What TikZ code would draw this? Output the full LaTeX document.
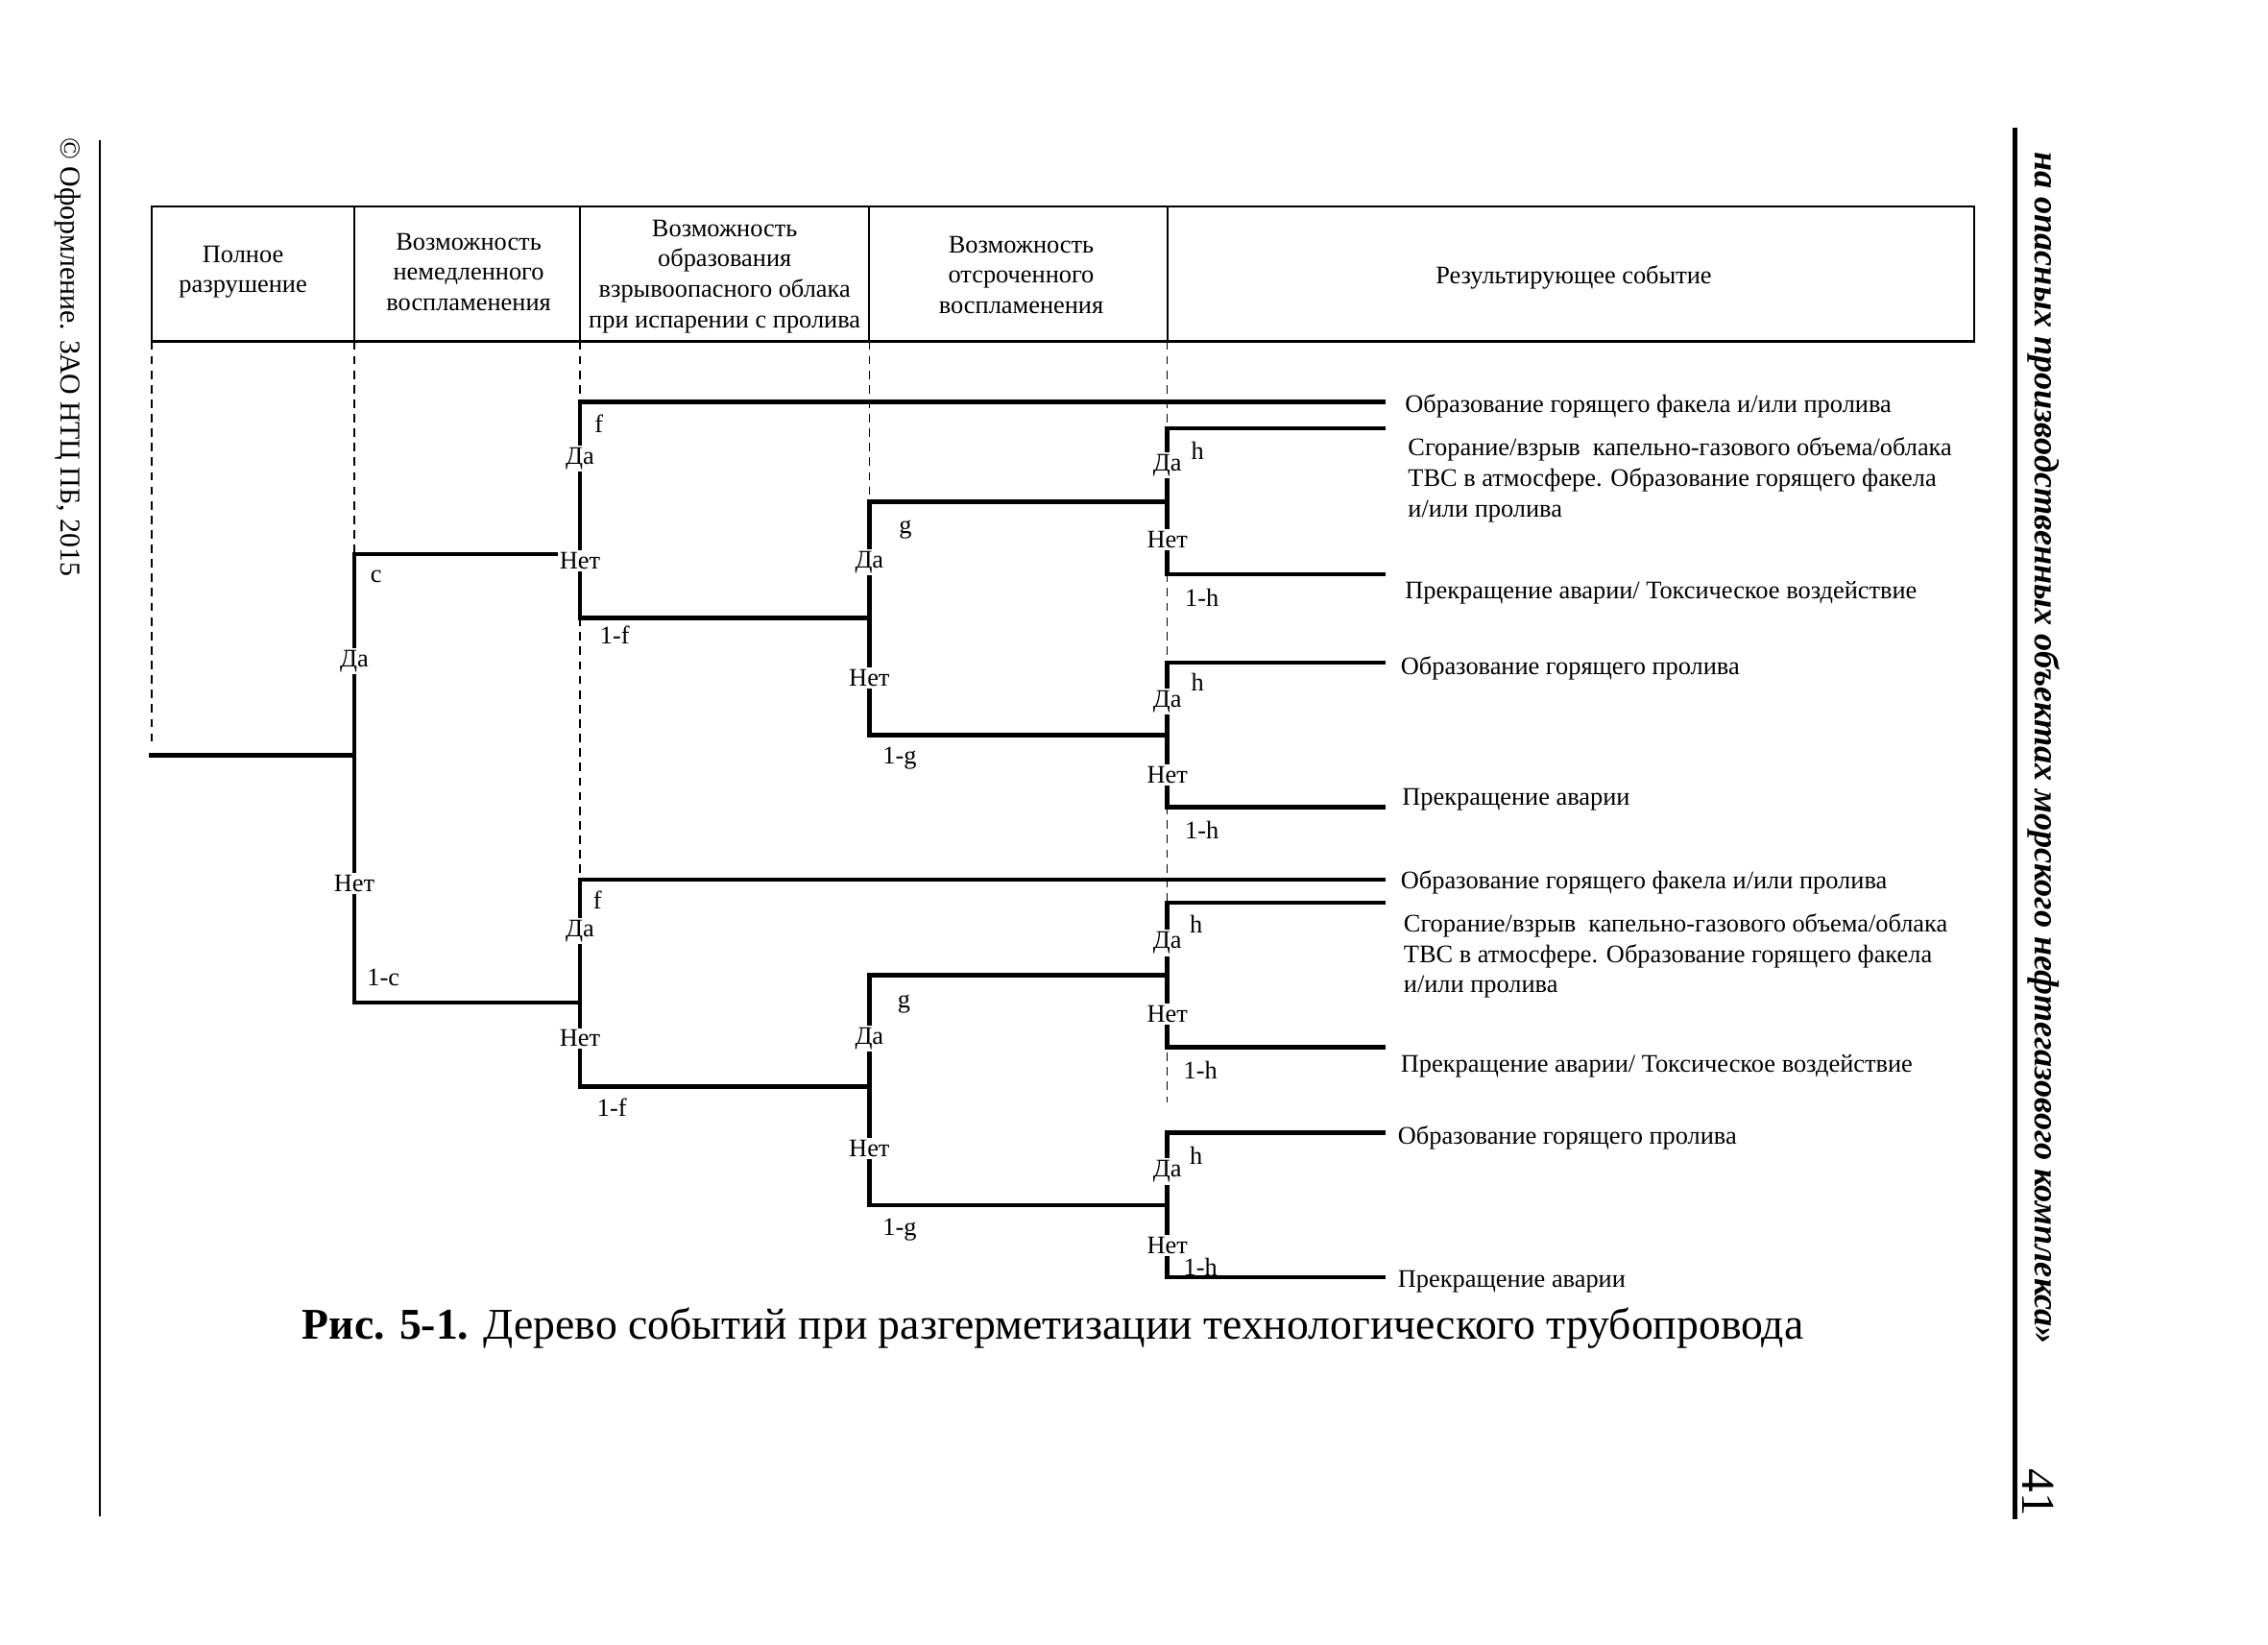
\documentclass[tikz,border=0pt]{standalone}
\usepackage{fontspec}
\setmainfont{Liberation Serif}

\begin{document}
\begin{tikzpicture}[x=0.015064cm, y=-0.015064cm,
		evline/.style={line width=1.3pt},
		gline/.style={line width=0.4pt, dash pattern=on 2.5pt off 1.8pt},
		cell/.style={line width=0.6pt},
		yn/.style={fill=white, inner sep=0.6pt, yshift=-0.8pt, font=\fontsize{7.5}{9}\selectfont},
		prob/.style={inner sep=0pt, yshift=-0.8pt, font=\fontsize{7.5}{9}\selectfont},
		res/.style={anchor=west, inner sep=0pt, yshift=-0.8pt, align=left, font=\fontsize{7.5}{9}\selectfont},
		hcell/.style={align=center, inner sep=0pt, font=\fontsize{7.5}{9}\selectfont}]
	\useasboundingbox (0,0) rectangle (1568,1137);
	
	\draw[line width=0.8pt] (69,97) -- (69,1048);
	\draw[line width=1.2pt] (1393,88) -- (1393,1050);
	\node[rotate=-90, font=\fontsize{8.5}{10}\selectfont] (foot) at (47,247) {© Оформление. ЗАО НТЦ ПБ, 2015};
	\node[rotate=-90, font=\fontsize{10.3}{12}\selectfont\bfseries\itshape] (runhead) at (1413,517) {на опасных производственных объектах морского нефтегазового комплекса»};
	\node[rotate=-90, font=\fontsize{14}{16}\selectfont] (pagenum) at (1409,1032) {41};
	
	\draw[cell] (105,143) rectangle (1365,236);
	\foreach \x in {245,401,601,807}
		\draw[cell] (\x,143) -- (\x,236);
	\node[hcell] (col1) at (168,188) {Полное\\разрушение};
	\node[hcell] (col2) at (324,188) {Возможность\\немедленного\\воспламенения};
	\node[hcell] (col3) at (501,191) {Возможность\\образования\\взрывоопасного облака\\при испарении с пролива};
	\node[hcell] (col4) at (706,190) {Возможность\\отсроченного\\воспламенения};
	\node[hcell] (col5) at (1088,192) {Результирующее событие};
	
	\coordinate (R) at (103,522);
	\coordinate (C) at (245,522);
	\coordinate (C1) at (245,383);
	\coordinate (C0) at (245,693);
	\coordinate (F1) at (401,383);
	\coordinate (F11) at (401,278);
	\coordinate (F10) at (401,427);
	\coordinate (G1) at (601,427);
	\coordinate (G11) at (601,347);
	\coordinate (G10) at (601,508);
	\coordinate (H1) at (807,347);
	\coordinate (H10) at (807,397);
	\coordinate (H2) at (807,508);
	\coordinate (H20) at (807,558);
	\coordinate (F2) at (401,693);
	\coordinate (F21) at (401,608);
	\coordinate (F20) at (401,751);
	\coordinate (G2) at (601,751);
	\coordinate (G20) at (601,833);
	\coordinate (H3) at (807,674);
	\coordinate (H30) at (807,724);
	\coordinate (H4) at (807,833);
	\coordinate (H40) at (807,883);
	\foreach \y [count=\i] in {278,296,397,458,558,608,624,724,783,883}
		\coordinate (E\i) at (958,\y);
	
	\draw[gline] (105,236) -- (105,515);
	\draw[gline] (245,236) -- (C1);
	\draw[gline] (401,236) -- (F11);
	\draw[gline] (F10) -- (F21);
	\draw[gline] (601,236) -- (G11);
	\draw[gline] (807,236) -- (807,762);
	
	\draw[evline] (R) -- (C);
	\draw[evline] (F1) -| (C0) -- (F2);
	\draw[evline] (E1) -| (F10) -- (G1);
	\draw[evline] (H1) -| (G10) -- (H2);
	\draw[evline] (E2) -| (H10) -- (E3);
	\draw[evline] (E4) -| (H20) -- (E5);
	\draw[evline] (E6) -| (F20) -- (G2);
	\draw[evline] (H3) -| (G20) -- (H4);
	\draw[evline] (E7) -| (H30) -- (E8);
	\draw[evline] (E9) -| (H40) -- (E10);
	
	\foreach \x/\y/\t [count=\i] in {
		245/455/Да, 245/609/Нет,
		401/315/Да, 401/386/Нет,
		601/387/Да, 601/467/Нет,
		807/320/Да, 807/371/Нет,
		807/483/Да, 807/534/Нет,
		401/642/Да, 401/716/Нет,
		601/716/Да, 601/792/Нет,
		807/650/Да, 807/699/Нет,
		807/808/Да, 807/859/Нет
	}{
		\node[yn] (yn\i) at (\x,\y) {\t};
	}
	
	\foreach \x/\y/\t [count=\i] in {
		260/397/c, 265/674/1-c,
		414/291/f, 425/437/1-f,
		626/364/g, 622/522/1-g,
		828/310/h, 831/411/1-h,
		828/470/h, 831/572/1-h,
		413/620/f, 423/764/1-f,
		625/692/g, 622/848/1-g,
		827/637/h, 830/738/1-h,
		827/797/h, 830/874/1-h
	}{
		\node[prob] (p\i) at (\x,\y) {\t};
	}
	
	\node[res] (r1) at (971,279) {Образование горящего факела и/или пролива};
	\node[res] (r2) at (973,330) {Сгорание/взрыв\ \ капельно-газового объема/облака\\ТВС в атмосфере. Образование горящего факела\\и/или пролива};
	\node[res] (r3) at (971,408) {Прекращение аварии/ Токсическое воздействие};
	\node[res] (r4) at (968,460) {Образование горящего пролива};
	\node[res] (r5) at (969,551) {Прекращение аварии};
	\node[res] (r6) at (968,608) {Образование горящего факела и/или пролива};
	\node[res] (r7) at (970,659) {Сгорание/взрыв\ \ капельно-газового объема/облака\\ТВС в атмосфере. Образование горящего факела\\и/или пролива};
	\node[res] (r8) at (968,735) {Прекращение аварии/ Токсическое воздействие};
	\node[res] (r9) at (966,785) {Образование горящего пролива};
	\node[res] (r10) at (966,884) {Прекращение аварии};
	
	\node[font=\fontsize{13}{15}\selectfont] (caption) at (728,918) {\textbf{Рис. 5-1.} Дерево событий при разгерметизации технологического трубопровода};
\end{tikzpicture}
\end{document}
